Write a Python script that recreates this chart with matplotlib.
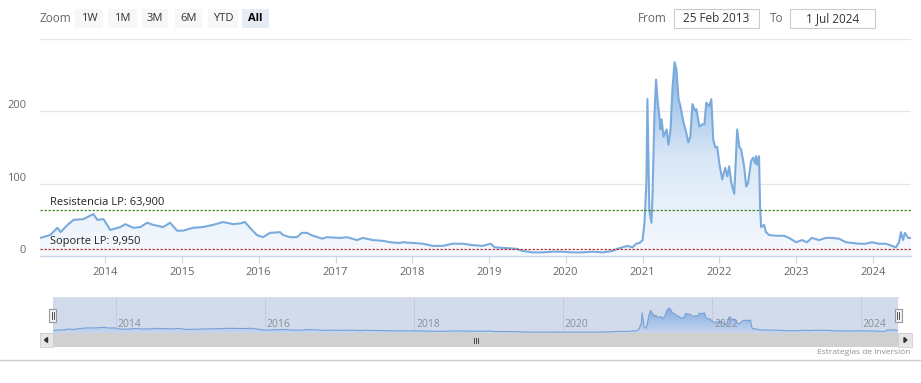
import matplotlib
matplotlib.use('Agg')
import matplotlib.pyplot as plt
import matplotlib.dates as mdates
import numpy as np
import pandas as pd
from matplotlib.patches import Rectangle, Polygon
from matplotlib.colors import LinearSegmentedColormap

plt.rcParams['font.family'] = ['Open Sans', 'DejaVu Sans']

# ---------------- data ----------------
dates = [
    "2013-02-25", "2013-04-15", "2013-05-19", "2013-06-03", "2013-07-06", "2013-08-04",
    "2013-09-20", "2013-11-06", "2013-11-25", "2013-12-24", "2014-01-25", "2014-03-14",
    "2014-04-07", "2014-05-15", "2014-06-17", "2014-07-20", "2014-08-18", "2014-10-04",
    "2014-11-06", "2014-12-09", "2015-01-07", "2015-02-23", "2015-04-11", "2015-05-29",
    "2015-07-16", "2015-09-02", "2015-10-05", "2015-10-28", "2015-11-21", "2015-12-24",
    "2016-01-22", "2016-02-24", "2016-04-12", "2016-04-27", "2016-05-30", "2016-07-01",
    "2016-07-25", "2016-08-18", "2016-09-16", "2016-10-29", "2016-11-22", "2017-01-23",
    "2017-02-25", "2017-04-13", "2017-05-11", "2017-06-28", "2017-08-15", "2017-09-17",
    "2017-11-03", "2017-11-17", "2018-01-04", "2018-02-21", "2018-04-08", "2018-05-26",
    "2018-07-13", "2018-08-29", "2018-10-16", "2018-12-02", "2019-01-09", "2019-01-28",
    "2019-03-25", "2019-05-12", "2019-06-10", "2019-07-27", "2019-09-13", "2019-10-30",
    "2019-12-16", "2020-02-02", "2020-03-20", "2020-05-07", "2020-06-24", "2020-08-11",
    "2020-09-03", "2020-09-27", "2020-10-21", "2020-11-13", "2020-12-02", "2020-12-17",
    "2021-01-01", "2021-01-10", "2021-01-19", "2021-01-24", "2021-02-02", "2021-02-12",
    "2021-02-17", "2021-02-26", "2021-03-06", "2021-03-13", "2021-03-23", "2021-03-27",
    "2021-04-01", "2021-04-11", "2021-04-25", "2021-05-04", "2021-05-14", "2021-05-23",
    "2021-06-02", "2021-06-11", "2021-06-21", "2021-06-30", "2021-07-14", "2021-07-24",
    "2021-08-07", "2021-08-16", "2021-08-26", "2021-09-09", "2021-09-14", "2021-09-28",
    "2021-10-12", "2021-10-22", "2021-10-31", "2021-11-14", "2021-11-24", "2021-12-03",
    "2021-12-13", "2021-12-22", "2022-01-01", "2022-01-15", "2022-01-29", "2022-02-08",
    "2022-02-17", "2022-02-27", "2022-03-13", "2022-03-27", "2022-04-06", "2022-04-15",
    "2022-04-29", "2022-05-09", "2022-05-18", "2022-06-01", "2022-06-11", "2022-06-20",
    "2022-06-25", "2022-06-30", "2022-07-09", "2022-07-14", "2022-07-19", "2022-08-02",
    "2022-08-11", "2022-08-26", "2022-09-28", "2022-11-05", "2022-11-29", "2023-01-01",
    "2023-01-29", "2023-02-22", "2023-03-17", "2023-04-20", "2023-05-23", "2023-06-20",
    "2023-07-24", "2023-08-26", "2023-09-24", "2023-10-27", "2023-11-29", "2023-12-28",
    "2024-01-30", "2024-03-03", "2024-04-01", "2024-04-20", "2024-05-05", "2024-05-14",
    "2024-05-24", "2024-06-02", "2024-06-17", "2024-07-01",
]
values = [
    25, 29, 39, 33, 43, 50,
    51, 58, 50, 51, 36, 40,
    44, 39, 40, 46, 43, 40,
    46, 35, 35, 39, 40, 43,
    47, 44, 45, 47, 39, 29,
    26, 32, 33, 29, 26, 26,
    32, 32, 28, 24, 26, 25,
    26, 22, 25, 22, 21, 19,
    18, 19, 18, 17, 14, 14,
    17, 17, 15, 14, 17, 12,
    11, 10, 7, 5, 5, 6,
    6, 5, 5, 6, 5, 7,
    10, 12, 14, 12, 17, 18,
    22, 46, 101, 217, 64, 46,
    82, 193, 244, 217, 189, 175,
    189, 165, 175, 154, 175, 231,
    268, 258, 217, 207, 185, 175,
    157, 165, 210, 200, 203, 179,
    182, 182, 212, 207, 217, 161,
    150, 151, 128, 106, 122, 110,
    124, 101, 86, 175, 151, 147,
    124, 96, 101, 131, 136, 128,
    138, 126, 138, 68, 40, 43,
    33, 29, 28, 28, 25, 19,
    22, 19, 25, 22, 25, 25,
    24, 19, 18, 17, 17, 19,
    17, 17, 14, 12, 19, 33,
    22, 32, 25, 25,
]
resistance = 63.9
support = 9.95
year_ticks = list(range(2014, 2025))
nav_years = [2014, 2016, 2018, 2020, 2022, 2024]
zoom_buttons = ["1W", "1M", "3M", "6M", "YTD", "All"]
from_label = "25 Feb 2013"
to_label = "1 Jul 2024"
start_date = "2013-02-25"
end_date = "2024-07-01"

# ---------------- layout helpers ----------------
W, H = 921, 383
fig = plt.figure(figsize=(W / 100, H / 100), dpi=100)
fig.patch.set_facecolor('white')


def fx(x):
    return x / W


def fy(y):
    return 1 - y / H


def prect(x0, y0, x1, y1, **kw):
    r = Rectangle((fx(x0), fy(y1)), fx(x1) - fx(x0), fy(y0) - fy(y1),
                  transform=fig.transFigure, **kw)
    fig.add_artist(r)
    return r


def ptext(x, y, s, **kw):
    fig.text(fx(x), fy(y), s, **kw)


x = mdates.date2num(pd.to_datetime(dates))
xmin = mdates.date2num(pd.Timestamp(start_date))
xmax = mdates.date2num(pd.Timestamp(end_date))
vals = np.array(values, dtype=float)

# ---------------- main chart ----------------
ax = fig.add_axes([fx(40), fy(256), fx(911) - fx(40), fy(39) - fy(256)])
ax.set_facecolor('none')

poly = ax.fill_between(x, vals, 0, color='none', lw=0)
path = poly.get_paths()[0]
grad = np.linspace(0, 1, 256).reshape(-1, 1)
cmap = LinearSegmentedColormap.from_list('g', ['#f7fafe', '#d9e7f7', '#86b2e5'])
im = ax.imshow(grad, extent=[xmin, xmax, 0, 270], origin='lower', aspect='auto',
               cmap=cmap, zorder=1, interpolation='bilinear')
im.set_clip_path(path, transform=ax.transData)
ax.plot(x, vals, color='#7aabdc', lw=1.5, zorder=3, solid_joinstyle='round')

ax.axhline(resistance, color='#4f8a3a', lw=0.9, ls=(0, (2.0, 1.2)), zorder=4)
ax.axhline(support, color='#b23a3a', lw=0.9, ls=(0, (2.0, 1.2)), zorder=4)
res_txt = "Resistencia LP: " + f"{resistance:.3f}".replace('.', ',')
sup_txt = "Soporte LP: " + f"{support:.3f}".replace('.', ',')
ax.annotate(res_txt, xy=(xmin, resistance), xytext=(10, 1.5), textcoords='offset pixels',
            fontsize=8, color='#222222', va='bottom', ha='left', zorder=5)
ax.annotate(sup_txt, xy=(xmin, support), xytext=(10, 1.5), textcoords='offset pixels',
            fontsize=8, color='#222222', va='bottom', ha='left', zorder=5)

ax.set_xlim(xmin, xmax)
ax.set_ylim(0, 300)
ax.set_yticks([0, 100, 200, 300])
ax.set_yticklabels(['0', '100', '200', ''])
ax.yaxis.grid(True, color='#e6e6e6', lw=0.9)
ax.set_axisbelow(True)
ax.tick_params(axis='y', length=0, pad=10, labelsize=8, labelcolor='#666666')
for lab in ax.get_yticklabels():
    lab.set_verticalalignment('bottom')
ax.set_xticks([mdates.date2num(pd.Timestamp(f"{yy}-01-01")) for yy in year_ticks])
ax.set_xticklabels([str(yy) for yy in year_ticks])
ax.tick_params(axis='x', length=5, width=0.9, color='#ccd6eb', pad=3,
               labelsize=8, labelcolor='#666666')
for s in ['left', 'right', 'top']:
    ax.spines[s].set_visible(False)
ax.spines['bottom'].set_color('#ccd6eb')
ax.spines['bottom'].set_linewidth(1.0)
ax.spines['bottom'].set_zorder(6)

# ---------------- navigator ----------------
nav = fig.add_axes([fx(52.7), fy(333), fx(898) - fx(52.7), fy(297) - fy(333)])
nav.set_facecolor('#d2dbec')
npoly = nav.fill_between(x, vals, -5, color='none', lw=0)
npath = npoly.get_paths()[0]
ncmap = LinearSegmentedColormap.from_list('n', ['#c6d5ee', '#82abe0'])
nim = nav.imshow(grad, extent=[xmin, xmax, -5, 270], origin='lower', aspect='auto',
                 cmap=ncmap, zorder=2, interpolation='bilinear')
nim.set_clip_path(npath, transform=nav.transData)
nav.plot(x, vals, color='#77a1d5', lw=0.8, zorder=3)
nav.set_xlim(xmin, xmax)
nav.set_ylim(-5, 390)
nav.set_xticks([])
nav.set_yticks([])
for yy in nav_years:
    xv = mdates.date2num(pd.Timestamp(f"{yy}-01-01"))
    nav.axvline(xv, color='#c2cadb', lw=0.7, zorder=1)
    nav.annotate(str(yy), xy=(xv, -5), xytext=(2, 3), textcoords='offset pixels',
                 fontsize=7.5, color='#8a8f99', ha='left', va='bottom', zorder=4)
for s in ['left', 'right', 'bottom']:
    nav.spines[s].set_visible(False)
nav.spines['top'].set_color('#d9dde6')
nav.spines['top'].set_linewidth(0.8)

# navigator handles
for hx in (52.7, 898):
    prect(hx - 3.5, 309, hx + 3.5, 322, facecolor='#f2f2f2', edgecolor='#999999', lw=0.8)
    for dx in (-1, 1):
        fig.add_artist(plt.Line2D([fx(hx + dx), fx(hx + dx)], [fy(312), fy(319)],
                                  transform=fig.transFigure, color='#333333', lw=0.6))

# scrollbar
prect(40, 333, 912, 347, facecolor='#d0d0d0', edgecolor='none')
prect(40, 333, 52.7, 347, facecolor='#e6e6e6', edgecolor='#cccccc', lw=0.5)
prect(898, 333, 912, 347, facecolor='#e6e6e6', edgecolor='#cccccc', lw=0.5)
fig.add_artist(Polygon([(fx(44.5), fy(340)), (fx(47.5), fy(337.5)), (fx(47.5), fy(342.5))],
                       closed=True, transform=fig.transFigure, color='#333333'))
fig.add_artist(Polygon([(fx(907), fy(340)), (fx(904), fy(337.5)), (fx(904), fy(342.5))],
                       closed=True, transform=fig.transFigure, color='#333333'))
for gx in (473.5, 475.5, 477.5):
    fig.add_artist(plt.Line2D([fx(gx), fx(gx)], [fy(337.5), fy(342.5)],
                              transform=fig.transFigure, color='#333333', lw=0.6))

# footer
fig.add_artist(plt.Line2D([0, 1], [fy(360), fy(360)], transform=fig.transFigure,
                          color='#cccccc', lw=1.0))
ptext(910, 353, "Estrategias de Inversión", fontsize=6, color='#909090', ha='right', va='center')

# ---------------- toolbar ----------------
ptext(40, 18.5, "Zoom", fontsize=8.5, color='#666666', ha='left', va='center')
btn_x = [(75, 103), (108, 137), (142, 168), (175, 202), (208, 238), (242, 269)]
for (bx0, bx1), lbl in zip(btn_x, zoom_buttons):
    sel = lbl == "All"
    prect(bx0, 9, bx1, 28, facecolor='#e6ebf5' if sel else '#f7f7f7', edgecolor='none')
    ptext((bx0 + bx1) / 2, 18.5, lbl, fontsize=8, color='#000000' if sel else '#333333',
          ha='center', va='center', fontweight='bold' if sel else 'normal')

ptext(667, 18.5, "From", fontsize=8.5, color='#666666', ha='right', va='center')
prect(674, 9, 759, 28, facecolor='white', edgecolor='#cccccc', lw=0.8)
ptext(716.5, 18.5, from_label, fontsize=8.5, color='#333333', ha='center', va='center')
ptext(770, 18.5, "To", fontsize=8.5, color='#666666', ha='left', va='center')
prect(790, 9, 875, 28, facecolor='white', edgecolor='#cccccc', lw=0.8)
ptext(832.5, 18.5, to_label, fontsize=8.5, color='#333333', ha='center', va='center')

fig.savefig('out.png', dpi=100)
